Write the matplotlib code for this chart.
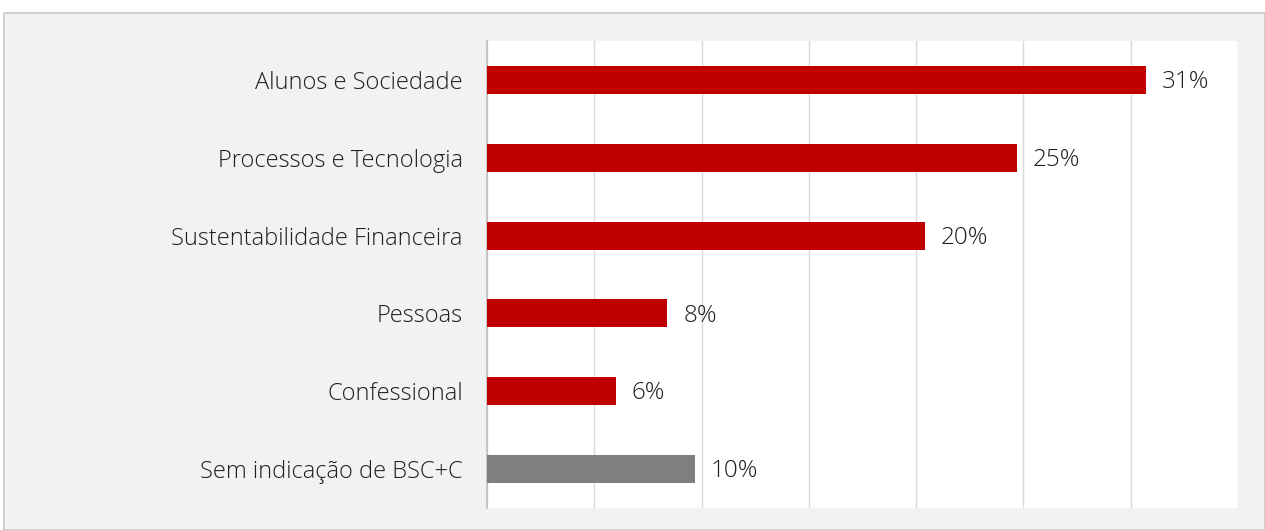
import matplotlib
matplotlib.use("Agg")
import matplotlib.pyplot as plt
from matplotlib.patches import Rectangle
from matplotlib import font_manager

categories = ["Alunos e Sociedade", "Processos e Tecnologia", "Sustentabilidade Financeira",
              "Pessoas", "Confessional", "Sem indicação de BSC+C"]
values = [30.7, 24.7, 20.4, 8.4, 6.0, 9.7]
colors = ["#C00000", "#C00000", "#C00000", "#C00000", "#C00000", "#7F7F7F"]
xticks = [0, 5, 10, 15, 20, 25, 30, 35]

plt.rcParams['font.family'] = ['Open Sans', 'DejaVu Sans']
light = [f for f in font_manager.fontManager.ttflist if f.name == "Open Sans" and f.weight in (300, "light")]
WEIGHT = "light" if light else "normal"

W, H = 1265, 530
fig = plt.figure(figsize=(W / 100, H / 100), dpi=100)
fig.patch.set_facecolor("white")
fig.add_artist(Rectangle((4 / W, 0), 1 - 4 / W, 1 - 13 / H, transform=fig.transFigure,
                         facecolor="#F2F2F2", edgecolor="#C8C8C8", linewidth=1.2, zorder=-10))

ax = fig.add_axes([487 / W, 1 - 508 / H, (1238 - 487) / W, (508 - 41) / H])
ax.set_facecolor("white")
y = list(range(len(categories)))
ax.barh(y, values, height=0.36, color=colors, zorder=3)
ax.set_ylim(len(categories) - 0.5, -0.5)
ax.set_xlim(0, 35)
ax.set_xticks(xticks)
ax.tick_params(axis="x", bottom=False, labelbottom=False)
ax.tick_params(axis="y", left=False, pad=14, labelsize=17, labelcolor="#1F1F1F")
ax.set_yticks(y)
ax.set_yticklabels(categories, fontweight=WEIGHT)
ax.grid(axis="x", color="#D9D9D9", linewidth=1, zorder=0)
for s in ["top", "right", "bottom"]:
    ax.spines[s].set_visible(False)
ax.spines["left"].set_color("#BFBFBF")
ax.spines["left"].set_linewidth(1.2)

for yi, v in zip(y, values):
    ax.annotate(f"{v:.0f}%", (v, yi), xytext=(11.5, -1.5), textcoords="offset points",
                ha="left", va="center", fontsize=17.5, fontweight=WEIGHT, color="#1F1F1F", zorder=4)

fig.savefig("out.png", dpi=100)
